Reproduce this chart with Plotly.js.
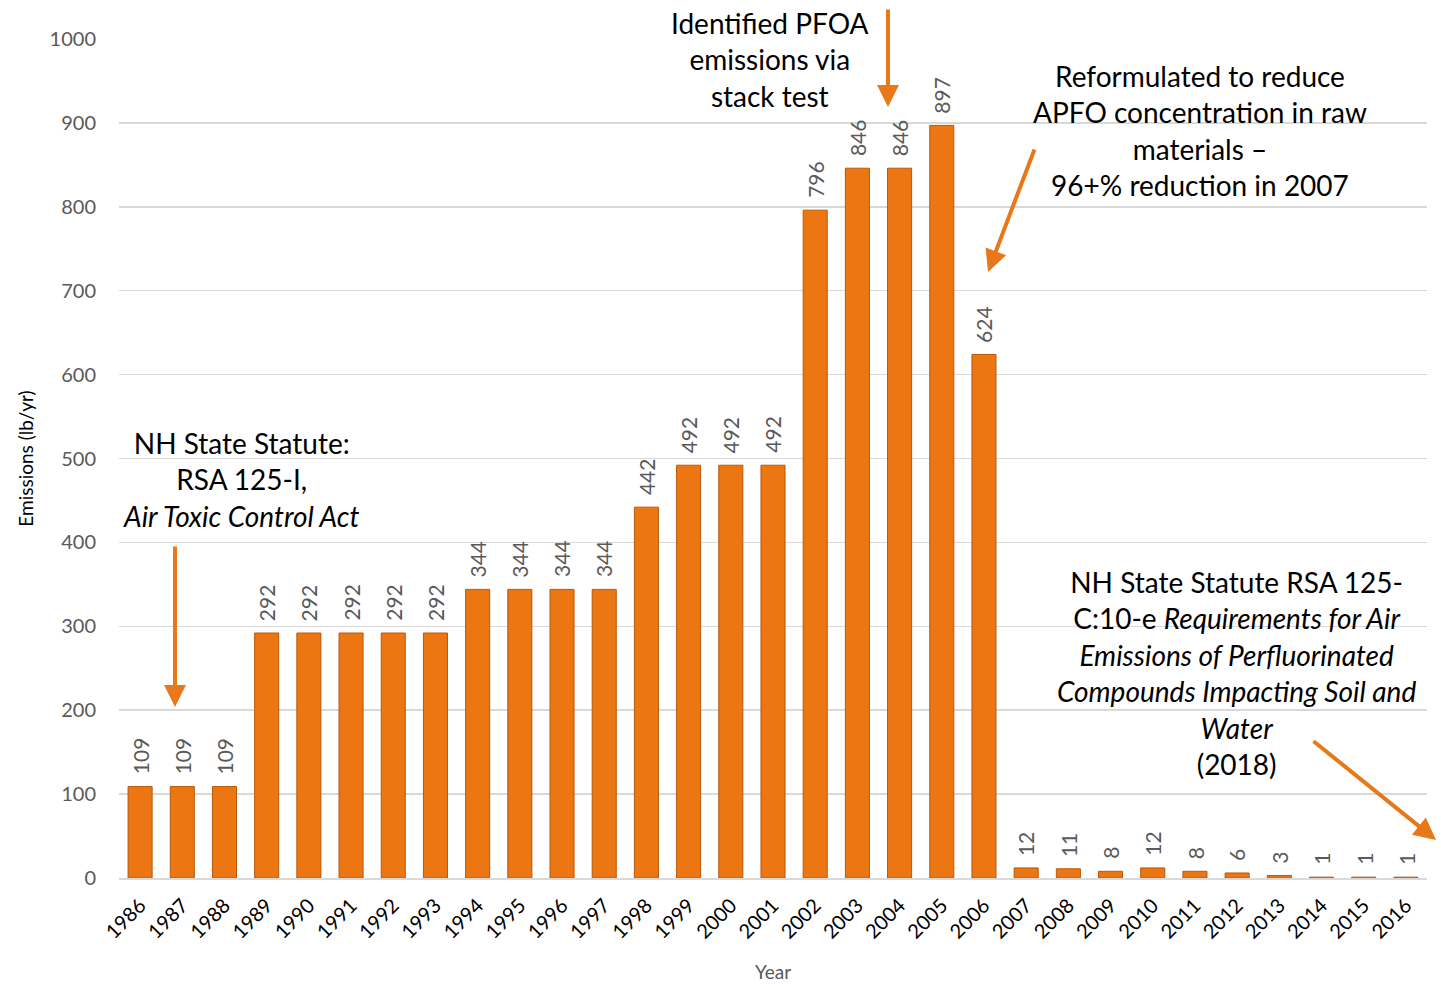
<!DOCTYPE html>
<html>
<head>
<meta charset="utf-8">
<script src="https://cdn.plot.ly/plotly-3.0.1.min.js"></script>
<style>html,body{margin:0;padding:0;background:#fff;}#chart{width:1441px;height:985px;}</style>
</head>
<body>
<div id="chart"></div>
<script>
const years = ['1986','1987','1988','1989','1990','1991','1992','1993','1994','1995','1996','1997','1998','1999','2000','2001','2002','2003','2004','2005','2006','2007','2008','2009','2010','2011','2012','2013','2014','2015','2016'];
const emissions = [109,109,109,292,292,292,292,292,344,344,344,344,442,492,492,492,796,846,846,897,624,12,11,8,12,8,6,3,1,1,1];
const yTicks = [0,100,200,300,400,500,600,700,800,900,1000];

const noteTexts = [
  'Identified PFOA<br>emissions via<br>stack test',
  'Reformulated to reduce<br>APFO concentration in raw<br>materials –<br>96+% reduction in 2007',
  'NH State Statute:<br>RSA 125-I,<br><i>Air Toxic Control Act</i>',
  'NH State Statute RSA 125-<br>C:10-e <i>Requirements for Air</i><br><i>Emissions of Perfluorinated</i><br><i>Compounds Impacting Soil and</i><br><i>Water</i><br>(2018)'
];

const FONT = 'Lato, "Open Sans", sans-serif';
const ORANGE = '#E8781A';

const trace = {
  type: 'bar',
  x: years,
  y: emissions,
  marker: {color: '#EC7612', line: {color: '#B8580A', width: 1}},
  width: 0.57,
  hoverinfo: 'x+y'
};

const labelAnns = years.map((yr, i) => ({
  x: i, y: emissions[i], xref: 'x', yref: 'y',
  text: String(emissions[i]), showarrow: false,
  textangle: -90, yanchor: 'bottom', xanchor: 'center', yshift: 10,
  font: {family: FONT, size: 21, color: '#595959'}
}));

const noteFont = {family: FONT, size: 28, color: '#000000'};
const noteAnns = [
  {x: 0.4977, y: 0.975, text: noteTexts[0]},
  {x: 0.8265, y: 0.8915, text: noteTexts[1]},
  {x: 0.094, y: 0.4744, text: noteTexts[2]},
  {x: 0.854, y: 0.2443, text: noteTexts[3]}
].map(a => Object.assign(a, {xref: 'paper', yref: 'paper', showarrow: false, xanchor: 'center', yanchor: 'middle', align: 'center', font: noteFont}));

const arrowAnns = [
  {x: 0.0428, y: 0.2038, ax: 0, ay: -162},
  {x: 0.5879, y: 0.9190, ax: 0, ay: -99},
  {x: 0.6644, y: 0.7223, ax: 47, ay: -124},
  {x: 1.0069, y: 0.0453, ax: -124, ay: -100}
].map(a => Object.assign(a, {xref: 'paper', yref: 'paper', text: '', showarrow: true, arrowhead: 2, arrowsize: 1.1, arrowwidth: 4, arrowcolor: ORANGE, standoff: 0}));

const layout = {
  width: 1441, height: 985,
  margin: {l: 119, r: 14, t: 39, b: 107},
  paper_bgcolor: '#fff', plot_bgcolor: '#fff',
  showlegend: false,
  bargap: 0.43,
  xaxis: {
    type: 'category',
    range: [-0.5, years.length - 0.5],
    tickangle: -45,
    tickfont: {family: FONT, size: 20, color: '#000000'},
    showgrid: false,
    showline: true, linecolor: '#D9D9D9', linewidth: 2,
    ticks: '', ticklabelstandoff: 6,
    title: {text: 'Year', font: {family: FONT, size: 19, color: '#595959'}, standoff: 24}
  },
  yaxis: {
    range: [0, 1000],
    tickvals: yTicks,
    ticktext: yTicks.map(String),
    tickfont: {family: FONT, size: 20, color: '#595959'},
    showgrid: true, gridcolor: '#D9D9D9', gridwidth: 1.5,
    zeroline: false, showline: false,
    ticks: '', ticklabelstandoff: 22,
    title: {text: 'Emissions (lb/yr)', font: {family: FONT, size: 19, color: '#000000'}, standoff: 10}
  },
  annotations: labelAnns.concat(noteAnns, arrowAnns)
};

Plotly.newPlot('chart', [trace], layout, {displayModeBar: false, staticPlot: true});
</script>
</body>
</html>
